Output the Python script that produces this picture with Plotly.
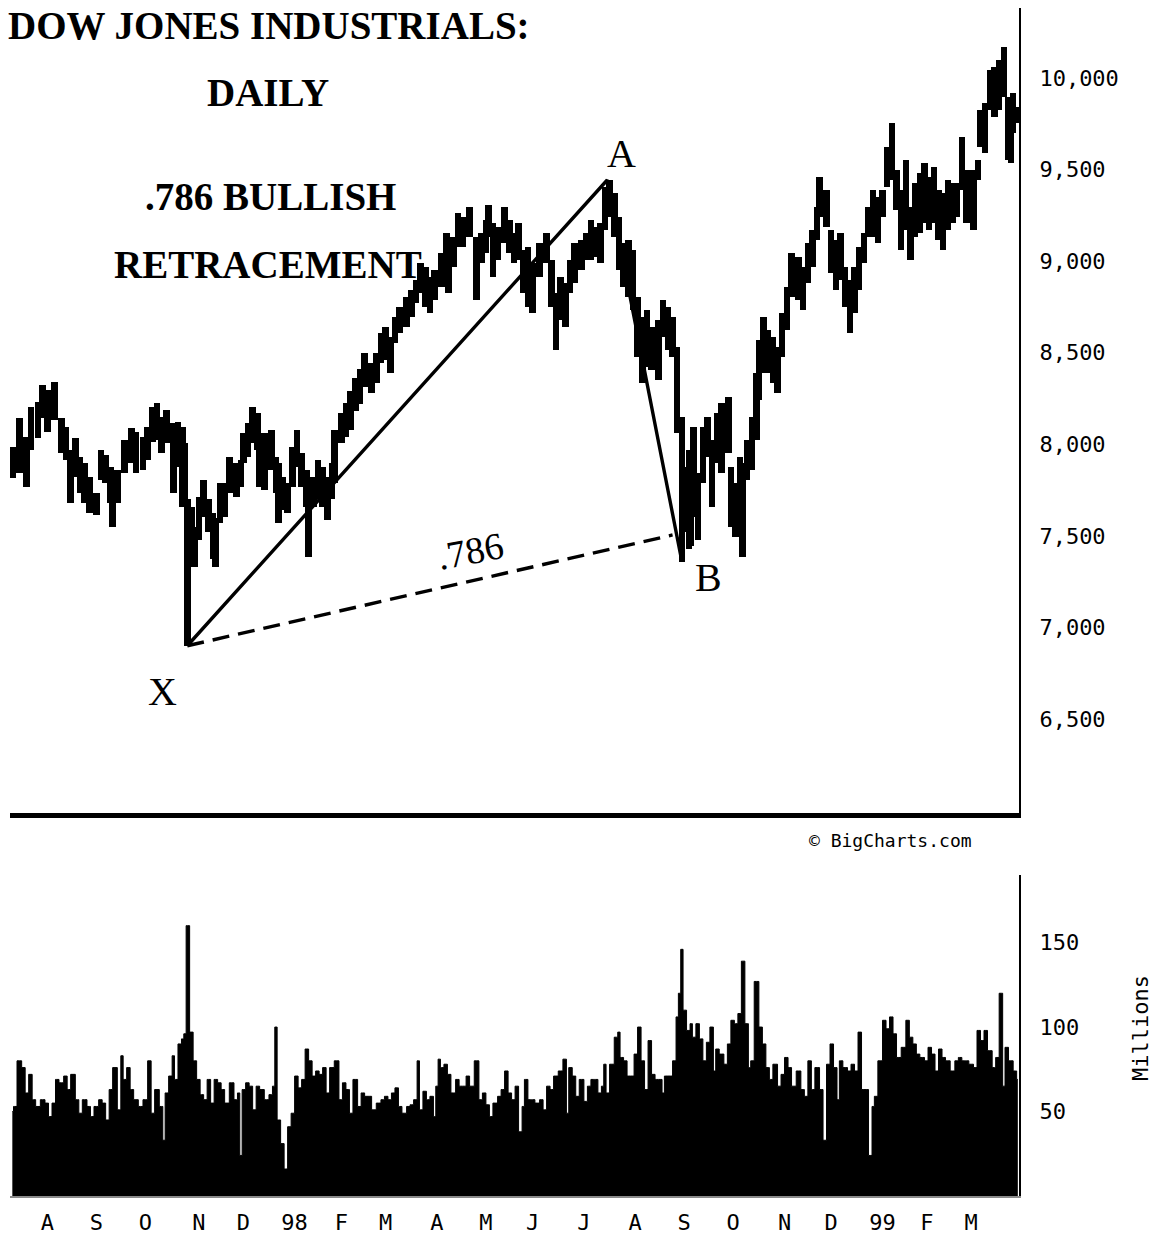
import plotly.graph_objects as go

# ---------------- data ----------------
# trading-day index (0 = early July 1997) for each sampled price bar
price_day = [1,4,7,9,12,14,16,19,22,24,26,28,30,32,34,37,39,41,43,44,46,49,52,54,57,59,61,63,65,67,
             70,72,74,75,76,78,79,81,83,85,87,88,90,92,94,97,99,100,102,104,106,107,109,112,114,115,117,119,121,123,
             125,127,128,130,132,134,136,138,139,142,144,146,148,150,152,155,157,159,161,163,165,167,170,172,174,176,178,180,182,185,
             187,188,190,192,194,197,200,202,204,205,207,209,212,214,216,218,220,222,224,227,230,232,234,236,238,240,242,245,247,249,
             251,253,255,257,259,261,263,265,267,269,271,273,275,278,280,282,284,286,288,289,291,292,293,295,297,299,301,303,305,308,
             309,311,313,314,316,318,320,321,323,325,327,329,331,333,335,338,340,342,344,346,347,350,352,354,356,358,360,362,364,366,
             368,370,372,374,376,378,380,382,384,386,388,390,392,394,396,398,400,402,404,406,408,410,413,415,416,418,420,422,424,426,
             428,429,430,432]
price_high = [7984,8142,8038,8202,8230,8323,8296,8340,8142,8093,7967,8033,7929,7896,7820,7733,7967,7940,7874,7820,7858,8022,8087,8066,8038,8093,8202,8224,8147,8185,
              8115,8120,8093,8005,7700,7656,7547,7711,7803,7700,7623,7600,7787,7787,7929,7896,7913,8060,8115,8202,8169,8022,8060,8076,7929,7896,7820,7787,7984,8076,
              7951,7858,7733,7820,7913,7874,7820,7896,8076,8169,8224,8290,8360,8410,8498,8444,8498,8607,8640,8585,8695,8750,8804,8842,8897,8989,8967,8913,8951,9044,
              9153,9022,9131,9262,9240,9295,9131,9153,9224,9306,9207,9186,9295,9224,9153,9207,9060,9077,8989,9098,9153,9006,8826,8913,8880,9006,9098,9115,9153,9224,
              9186,9207,9405,9443,9372,9240,9098,9115,9060,8804,8695,8733,8640,8678,8787,8750,8695,8531,8147,7874,7967,7842,8093,7842,8093,8147,8022,8169,8224,8258,
              7874,7787,7929,7900,8022,8147,8389,8569,8695,8624,8585,8531,8717,8859,9044,9022,8967,9098,9170,9295,9459,9389,9170,9115,9153,8967,8897,8967,9077,9153,
              9295,9389,9350,9389,9623,9754,9498,9389,9552,9295,9427,9481,9536,9459,9514,9389,9372,9443,9427,9427,9678,9498,9498,9552,9825,9864,10044,10060,10098,10169,
              9896,9809,9918,9842]
price_low = [7814,7842,7765,7967,8033,8142,8066,8131,7951,7913,7678,7820,7733,7678,7623,7612,7803,7787,7678,7547,7678,7842,7896,7842,7858,7913,8011,8022,7951,8005,
             7733,7874,7656,7678,6900,7405,7329,7476,7601,7519,7372,7329,7569,7601,7733,7711,7765,7896,7929,8005,7967,7765,7749,7858,7733,7569,7640,7623,7765,7874,
             7765,7656,7383,7656,7700,7656,7585,7700,7787,8005,8038,8080,8180,8220,8312,8280,8335,8444,8460,8389,8553,8607,8640,8695,8771,8826,8750,8717,8787,8859,
             8967,8826,8967,9077,9077,9131,8787,8989,9044,9131,8913,9006,9098,9044,8989,9006,8826,8750,8717,8913,8989,8750,8515,8678,8640,8826,8880,8951,9006,9006,
             9022,8989,9170,9240,9131,8951,8859,8804,8733,8476,8335,8422,8405,8351,8585,8515,8476,8060,7360,7519,7426,7443,7601,7476,7787,7929,7656,7896,7842,7951,
             7547,7492,7601,7383,7803,7858,8022,8242,8389,8389,8335,8280,8476,8624,8804,8787,8733,8880,8967,9115,9240,9186,8935,8842,8897,8750,8607,8717,8842,8989,
             9131,9131,9098,9240,9405,9443,9279,9061,9170,9006,9131,9153,9207,9170,9207,9115,9061,9170,9207,9240,9389,9207,9170,9443,9623,9590,9825,9787,9825,9896,
             9552,9536,9700,9754]

# daily volume (millions)
vol_day = [1,2,4,6,7,9,10,12,14,16,17,19,20,22,24,25,27,29,30,32,34,35,37,39,40,42,43,45,47,48,
           49,51,52,54,56,58,60,61,63,65,66,67,69,70,71,73,74,75,76,78,79,81,82,84,85,87,88,90,91,93,
           95,97,98,99,100,102,103,105,106,108,110,112,113,114,115,117,118,120,121,123,124,126,127,129,130,132,133,135,136,138,
           140,142,143,145,146,148,150,151,153,154,156,158,160,161,163,164,166,167,169,171,172,174,175,176,178,179,181,182,183,184,
           185,187,188,190,192,193,195,196,198,200,202,203,205,206,208,210,211,213,214,216,217,219,220,221,223,224,226,228,229,231,
           232,234,236,238,239,240,242,243,245,247,248,250,251,253,254,255,256,258,260,261,262,264,265,267,268,270,271,273,274,276,
           277,279,280,281,283,285,286,287,288,289,291,292,293,295,296,298,299,301,302,303,305,307,308,310,311,313,314,316,317,318,
           320,322,323,325,326,328,330,331,333,334,336,338,340,341,343,344,346,348,349,351,352,354,355,356,358,360,361,363,364,366,
           367,369,370,371,373,375,376,378,379,381,383,385,386,388,389,391,393,394,396,397,399,400,402,404,406,407,409,410,412,414,
           415,417,418,420,422,423,425,426,427,429,431,432]
volume = [50,53,80,76,61,72,57,53,57,55,47,55,69,67,71,63,72,57,49,57,53,47,53,57,55,45,63,76,51,83,
          69,76,63,57,53,57,80,49,63,53,33,61,71,83,69,90,93,96,160,97,80,69,60,57,69,55,69,67,63,55,
          67,57,61,24,63,67,65,51,65,63,57,60,65,100,45,31,16,41,49,71,64,69,87,80,71,74,72,76,61,76,
          80,57,67,63,49,69,53,61,59,59,51,55,57,59,57,61,64,53,49,53,54,57,80,51,62,57,59,47,65,81,
          76,78,72,61,69,65,65,71,65,80,57,61,54,47,55,59,63,74,61,57,65,38,53,69,57,57,55,57,51,65,
          63,71,74,81,49,76,71,59,69,56,65,69,69,61,65,78,61,78,94,97,82,80,71,71,84,100,80,63,92,72,
          69,69,61,71,71,80,106,120,146,110,98,102,94,102,93,80,91,100,74,87,84,78,90,104,102,108,139,102,76,80,
          127,100,90,76,69,78,65,72,82,76,65,74,63,59,80,63,76,63,33,78,90,76,57,80,76,74,78,74,97,63,
          63,24,53,59,80,104,99,106,96,82,88,104,94,90,84,82,80,88,84,74,87,82,80,74,80,82,80,80,78,76,
          98,92,98,86,76,82,120,65,88,80,74,69]

# month-start trading-day indices and their labels
month_day = [16,37,58,81,100,122,142,161,183,204,224,246,268,289,310,332,352,374,393,412]
month_lab = ["A","S","O","N","D","98","F","M","A","M","J","J","A","S","O","N","D","99","F","M"]

price_ticks = [6500,7000,7500,8000,8500,9000,9500,10000]
vol_ticks = [50,100,150]

# pattern pivots X, A, B and the .786 level line
pivot_day = [76, 256, 288]
pivot_price = [6900, 9443, 7360]
level_day = [76, 284]
level_price = [6900, 7505]

# ---------------- figure ----------------
MONO = "DejaVu Sans Mono"
SERIF = "Liberation Serif"

fig = go.Figure()

fig.add_trace(go.Bar(
    x=price_day, y=[h - l for h, l in zip(price_high, price_low)], base=price_low,
    width=2.8, marker=dict(color="black", line=dict(width=0)),
    xaxis="x", yaxis="y", showlegend=False, hoverinfo="skip"))

fig.add_trace(go.Scatter(
    x=pivot_day, y=pivot_price, mode="lines",
    line=dict(color="black", width=3.4), xaxis="x", yaxis="y",
    showlegend=False, hoverinfo="skip"))

fig.add_trace(go.Scatter(
    x=level_day, y=level_price, mode="lines",
    line=dict(color="black", width=3.4, dash="17px,9px"), xaxis="x", yaxis="y",
    showlegend=False, hoverinfo="skip"))

fig.add_trace(go.Scatter(
    x=vol_day, y=volume, mode="lines", line_shape="hvh",
    line=dict(color="black", width=1), fill="tozeroy", fillcolor="black",
    xaxis="x2", yaxis="y2", showlegend=False, hoverinfo="skip"))

XR = [0, 432.5]
fig.update_layout(
    width=1154, height=1249,
    margin=dict(l=10, r=135, t=8, b=53),
    paper_bgcolor="white", plot_bgcolor="white",
    bargap=0, barmode="overlay",
    xaxis=dict(domain=[0, 1], anchor="y", range=XR, showticklabels=False,
               showgrid=False, zeroline=False, ticks="",
               showline=True, linewidth=5, linecolor="black"),
    yaxis=dict(domain=[0.3224, 1], anchor="x", side="right",
               range=[5987, 10382], tickvals=price_ticks, tickformat=",d",
               showgrid=False, zeroline=False, ticks="",
               showline=True, linewidth=2, linecolor="black",
               ticklabelstandoff=14,
               tickfont=dict(family=MONO, size=22, color="black")),
    xaxis2=dict(domain=[0, 1], anchor="y2", range=XR,
                tickvals=month_day, ticktext=month_lab,
                showgrid=False, zeroline=False, ticks="",
                showline=True, linewidth=2, linecolor="#8a8a8a",
                ticklabelstandoff=6,
                tickfont=dict(family=MONO, size=22, color="black")),
    yaxis2=dict(domain=[0, 0.2702], anchor="x2", side="right",
                range=[0, 190], tickvals=vol_ticks,
                showgrid=False, zeroline=False, ticks="",
                showline=True, linewidth=2, linecolor="black",
                ticklabelstandoff=14,
                tickfont=dict(family=MONO, size=22, color="black")),
)

title_font = dict(family=SERIF, size=39, color="black", weight="bold")
label_font = dict(family=SERIF, size=40, color="black")

def px_to_paper(px, py):
    return (px - 10) / 1009, 1 - (py - 8) / 1188

annos = []
for text, px, py in [("DOW JONES INDUSTRIALS:", 269, 26),
                     ("DAILY", 268, 92),
                     (".786 BULLISH", 270, 196),
                     ("RETRACEMENT", 268, 264)]:
    xp, yp = px_to_paper(px, py)
    annos.append(dict(text=text, x=xp, y=yp, xref="paper", yref="paper",
                      xanchor="center", yanchor="middle", showarrow=False,
                      font=title_font))

for text, d, p in [("A", 262.0, 9585), ("B", 299.3, 7270), ("X", 65.3, 6648)]:
    annos.append(dict(text=text, x=d, y=p, xref="x", yref="y",
                      xanchor="center", yanchor="middle", showarrow=False,
                      font=label_font))

annos.append(dict(text=".786", x=197.3, y=7418, xref="x", yref="y",
                  xanchor="center", yanchor="middle", showarrow=False,
                  textangle=-11, font=dict(family=SERIF, size=38, color="black")))

xp, yp = px_to_paper(890, 840)
annos.append(dict(text="© BigCharts.com", x=xp, y=yp, xref="paper", yref="paper",
                  xanchor="center", yanchor="middle", showarrow=False,
                  font=dict(family=MONO, size=18, color="black")))

xp, yp = px_to_paper(1140, 1028)
annos.append(dict(text="Millions", x=xp, y=yp, xref="paper", yref="paper",
                  xanchor="center", yanchor="middle", showarrow=False,
                  textangle=-90, font=dict(family=MONO, size=22, color="black")))

fig.update_layout(annotations=annos)

# the page's default 8px body margin would shift the figure; remove it
fig.write_html("out.html",
               config={"displayModeBar": False},
               post_script="document.body.style.margin='0px';document.body.style.overflow='hidden';")
